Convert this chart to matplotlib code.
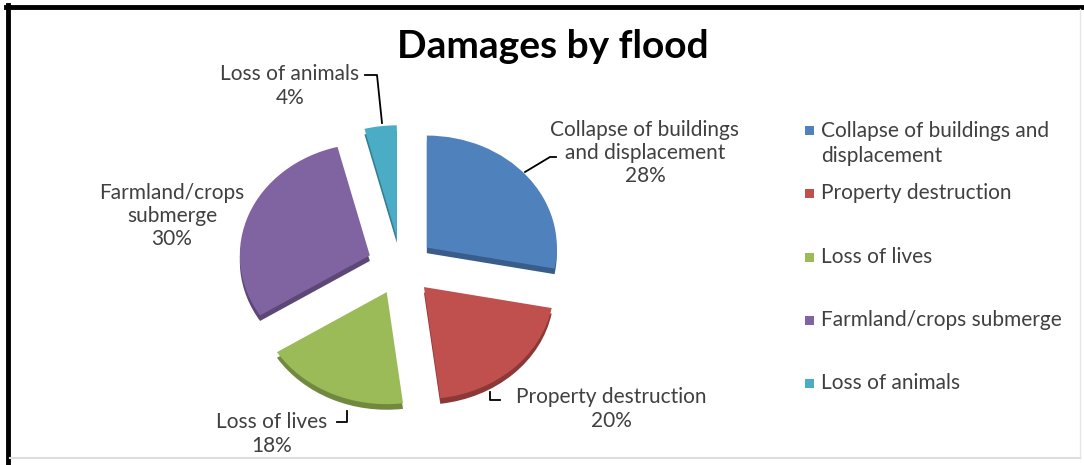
import matplotlib
matplotlib.use("Agg")
import matplotlib.pyplot as plt
from matplotlib.lines import Line2D
from matplotlib.patches import Rectangle

# data
categories = ["Collapse of buildings and displacement", "Property destruction",
              "Loss of lives", "Farmland/crops submerge", "Loss of animals"]
values = [28, 20, 18, 30, 4]
slice_labels = ["Collapse of buildings\nand displacement", "Property destruction",
                "Loss of lives", "Farmland/crops\nsubmerge", "Loss of animals"]
legend_labels = ["Collapse of buildings and\ndisplacement", "Property destruction",
                 "Loss of lives", "Farmland/crops submerge", "Loss of animals"]

colors = ["#4F81BD", "#C0504D", "#9BBB59", "#8064A2", "#4BACC6"]
sides = ["#385D8A", "#8C3836", "#71893F", "#5C4776", "#357D91"]

W, H = 1084, 465
plt.rcParams['font.family'] = ['Lato', 'DejaVu Sans']
txt = "#404040"

def fx(px):
    return px / W

def fy(py):
    return 1 - py / H

fig = plt.figure(figsize=(W / 100, H / 100), dpi=100)
fig.patch.set_facecolor("white")

# pie axes: centre at (401, 266) px, radius 130 px wide, 112 px tall (tilted)
cx, cy, rx, ry, lim = 401, 266, 130, 112, 1.6
ax = fig.add_axes([fx(cx - lim * rx), (H - cy - lim * ry) / H,
                   2 * lim * rx / W, 2 * lim * ry / H])
explode = [0.258] * len(values)
ax.pie(values, colors=sides, startangle=90, counterclock=False,
       explode=explode, center=(0, -0.05), wedgeprops=dict(linewidth=0))
ax.pie(values, colors=colors, startangle=90, counterclock=False,
       explode=explode, wedgeprops=dict(linewidth=0))
ax.set_aspect('auto')
ax.set_xlim(-lim, lim)
ax.set_ylim(-lim, lim)
ax.axis('off')

# title
fig.text(fx(553), fy(47), "Damages by flood", ha='center', va='center',
         fontsize=28, fontweight='bold', color='black')

# data labels
pcts = ["%d%%" % v for v in values]
label_pos = [(645, 153), (611, 409), (272, 434), (172, 216), (290, 86)]
for lab, p, (px, py) in zip(slice_labels, pcts, label_pos):
    fig.text(fx(px), fy(py), lab + "\n" + p, ha='center', va='center',
             fontsize=15, color=txt, linespacing=1.2)

# leader lines
leaders = [
    [(525, 172), (550, 157), (556, 157)],
    [(490, 392), (490, 400), (500, 400)],
    [(347, 411), (347, 422), (337, 422)],
    [(365, 75), (377, 75), (382, 123)],
]
for pts in leaders:
    xs = [fx(p[0]) for p in pts]
    ys = [fy(p[1]) for p in pts]
    fig.add_artist(Line2D(xs, ys, color='black', lw=1.3))

# legend
rows = [130, 193, 257, 320, 383]
for lab, c, ry_ in zip(legend_labels, colors, rows):
    fig.add_artist(Rectangle((fx(805), fy(ry_ + 5)), 9 / W, 9 / H,
                             transform=fig.transFigure, color=c, lw=0))
    n = lab.count("\n")
    fig.text(fx(821), fy(ry_ + n * 13.5), lab, ha='left', va='center',
             fontsize=15, color=txt, linespacing=1.3)

# chart frame
fig.add_artist(Line2D([fx(6), fx(1084)], [fy(7), fy(7)], color='black', lw=3.5))
fig.add_artist(Line2D([fx(8), fx(8)], [fy(5), fy(465)], color='black', lw=3.5))
fig.add_artist(Line2D([fx(1080), fx(1080)], [fy(9), fy(458)], color='#e6e6e6', lw=1))
fig.add_artist(Line2D([fx(10), fx(1080)], [fy(458), fy(458)], color='#dddddd', lw=1.5))

fig.savefig("out.png", dpi=100, facecolor="white")
